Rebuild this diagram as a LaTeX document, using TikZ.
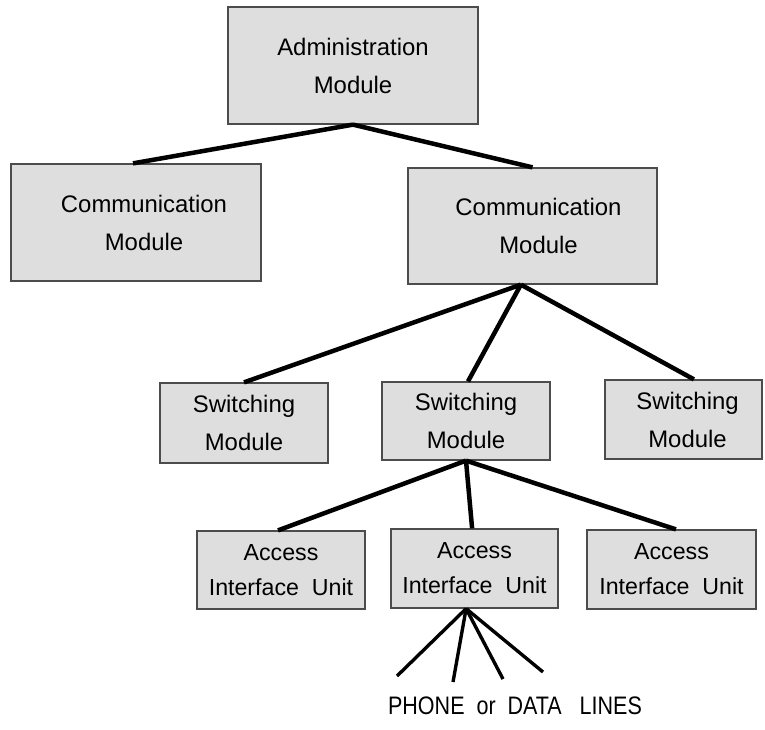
\documentclass[tikz,border=0pt]{standalone}
\usepackage{fontspec}
\setmainfont{Liberation Sans}
\newfontfamily\linesfont[FakeStretch=0.85]{Liberation Sans}
\usetikzlibrary{positioning,calc}

\tikzset{
  module/.style={draw=black!70, fill=black!13, line width=0.9pt, align=center,
    inner sep=0pt, font=\fontsize{17}{27}\selectfont},
  unit/.style={module, font=\fontsize{16.5}{25}\selectfont},
  link/.style={line width=3.2pt},
  wire/.style={line width=2.4pt}
}

\begin{document}
\begin{tikzpicture}[x=0.25mm, y=-0.25mm]

\useasboundingbox (0,0) rectangle (765,729);

% Top level
\node[module, minimum width=62.5mm, minimum height=29.25mm] (admin) at (353,65.5) {Administration\\Module};

% Communication modules
\node[module, minimum width=62.5mm, minimum height=29.25mm] (comml) at (136,222.5) {\hspace*{4mm}Communication\\\hspace*{4mm}Module};
\node[module, minimum width=62.25mm, minimum height=29mm] (commr) at (532.5,226) {\hspace*{3mm}Communication\\\hspace*{3mm}Module};

% Switching modules
\node[module, minimum width=42mm, minimum height=20mm] (swl) at (244,423) {Switching\\Module};
\node[module, minimum width=42mm, minimum height=19.5mm] (swm) at (466,421) {Switching\\Module};
\node[module, minimum width=39.25mm, minimum height=19.75mm] (swr) at (683.5,419.5) {\hspace*{2mm}Switching\\\hspace*{2mm}Module};

% Access interface units
\node[unit, minimum width=42mm, minimum height=19.5mm] (aiul) at (281,570) {Access\\Interface\ \ Unit};
\node[unit, minimum width=41.75mm, minimum height=19.75mm] (aium) at (474.5,568.5) {Access\\Interface\ \ Unit};
\node[unit, minimum width=42.25mm, minimum height=19.75mm] (aiur) at (671.5,569.5) {Access\\Interface\ \ Unit};

% Links between levels
\draw[link] (admin.south) -- ([xshift=-0.75mm]comml.north);
\draw[link] (admin.south) -- (commr.north);

\draw[link] ([xshift=-2.9mm]commr.south) -- (swl.north);
\draw[link] ([xshift=-2.9mm]commr.south) -- ([xshift=0.5mm]swm.north);
\draw[link] ([xshift=-2.9mm]commr.south) -- ([xshift=2.6mm]swr.north);

\draw[link] (swm.south) -- ([xshift=-0.75mm]aiul.north);
\draw[link] (swm.south) -- ([xshift=-0.6mm]aium.north);
\draw[link] (swm.south) -- ([xshift=1.1mm]aiur.north);

% Lines out of the middle unit
\coordinate (l1) at (397,676);
\coordinate (l2) at (453,682);
\coordinate (l3) at (503,679);
\coordinate (l4) at (543,672);
\foreach \l in {l1,l2,l3,l4} {
  \draw[wire] ([xshift=-2.1mm]aium.south) -- (\l);
}

\node[font=\fontsize{18}{20}\selectfont] (lines) at (515,706) {\linesfont PHONE\ \ or\ \ DATA\ \ \ LINES};

\end{tikzpicture}
\end{document}
